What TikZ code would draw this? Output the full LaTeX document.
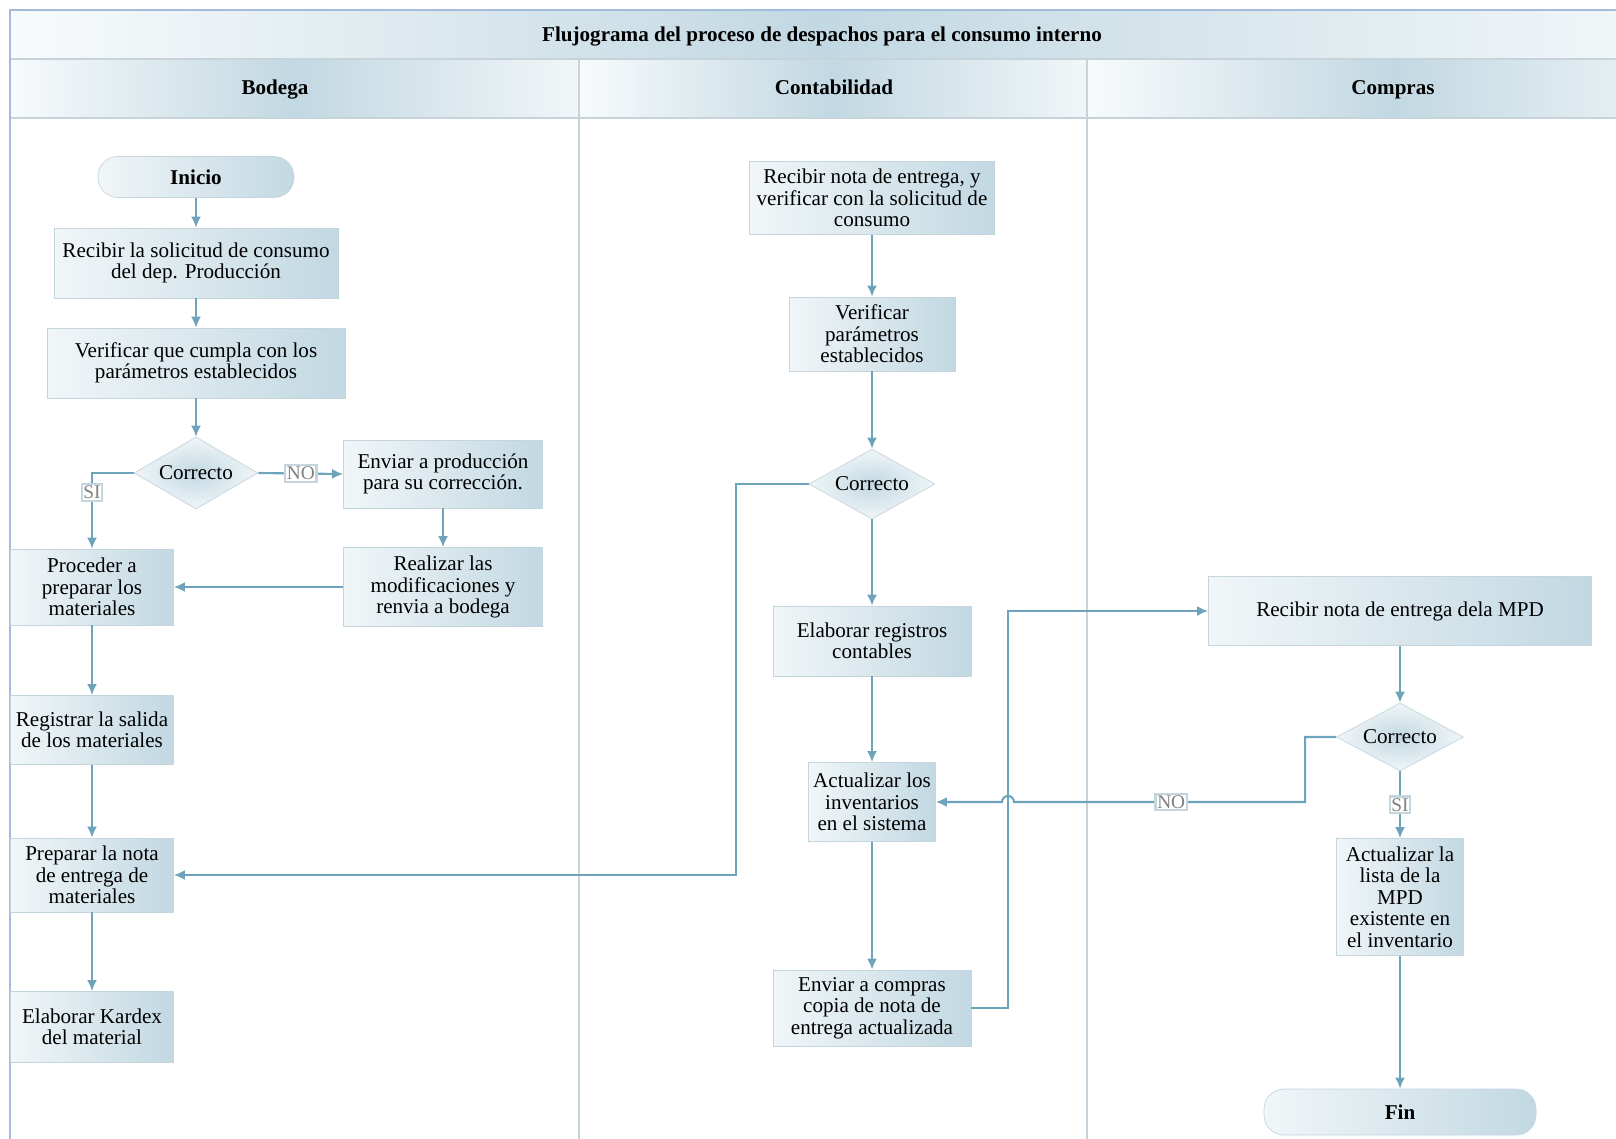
\documentclass[tikz,border=0pt]{standalone}
\usepackage{fontspec}
\setmainfont{Liberation Serif}
\usetikzlibrary{arrows.meta,shapes.geometric,calc}

\definecolor{flujo}{HTML}{6DA3BB}
\definecolor{claro}{HTML}{F1F6F8}
\definecolor{oscuro}{HTML}{C2D8E2}
\definecolor{borde}{HTML}{C4D5DE}
\definecolor{carril}{HTML}{C6D3DA}
\definecolor{marco}{HTML}{A3BBDD}

\tikzset{
    texto/.style={font=\fontsize{12}{12.2}\selectfont},
    proceso/.style={texto, draw=borde, left color=claro, right color=oscuro, align=center, inner sep=2pt},
    terminal/.style={proceso, rounded corners=0.4cm, font=\fontsize{12}{12}\selectfont\bfseries},
    decision/.style={diamond, aspect=1.75, draw=borde, inner color=oscuro, outer color=claro, inner sep=0pt, texto},
    enlace/.style={draw=flujo, line width=1.2pt, -{Latex[length=2.2mm,width=2mm]}},
    etiqueta/.style={fill=white, draw=borde, text=gray, inner sep=1pt, font=\fontsize{11}{11}\selectfont},
    cabecera/.style={font=\fontsize{12}{12}\selectfont\bfseries, text height=1.6ex, text depth=.5ex},
}

\begin{document}
\begin{tikzpicture}[x=0.2mm, y=-0.2mm]
    \clip (0,0) rectangle (1616,1138);

    % bandas de titulo y carriles
    \shade[left color=claro!50!white, right color=claro, middle color=oscuro] (10,10) rectangle (1634,59);
    \shade[left color=claro!50!white, right color=claro, middle color=oscuro] (10,59) rectangle (579,118);
    \shade[left color=claro!50!white, right color=claro, middle color=oscuro] (579,59) rectangle (1087,118);
    \shade[left color=claro!50!white, right color=claro, middle color=oscuro] (1087,59) rectangle (1700,118);
    \draw[carril, line width=1pt] (10,59) -- (1700,59) (10,118) -- (1700,118);
    \draw[carril, line width=1.2pt] (579,59) -- (579,1200) (1087,59) -- (1087,1200);
    \draw[marco, line width=1pt] (1700,10) -- (10,10) -- (10,1200);

    \node[cabecera] (titulo) at (822,37) {Flujograma del proceso de despachos para el consumo interno};
    \node[cabecera] (bodega) at (275,90) {Bodega};
    \node[cabecera] (conta) at (834,90) {Contabilidad};
    \node[cabecera] (compras) at (1393,90) {Compras};

    % Bodega
    \node[terminal, minimum width=3.92cm, minimum height=0.82cm] (inicio) at (196,177) {Inicio};
    \node[proceso, minimum width=5.68cm, minimum height=1.4cm] (recsol) at (196,263) {Recibir la solicitud de consumo\\del dep. Producción};
    \node[proceso, minimum width=5.96cm, minimum height=1.4cm] (verif) at (196,363) {Verificar que cumpla con los\\parámetros establecidos};
    \node[decision, minimum width=2.48cm, minimum height=1.44cm] (dec1) at (196,473) {Correcto};
    \node[proceso, minimum width=3.98cm, minimum height=1.36cm] (envprod) at (443,474) {Enviar a producción\\para su corrección.};
    \node[proceso, minimum width=3.98cm, minimum height=1.58cm] (realiz) at (443,587) {Realizar las\\modificaciones y\\renvia a bodega};
    \node[proceso, minimum width=3.26cm, minimum height=1.52cm] (proced) at (92,587) {Proceder a\\preparar los\\materiales};
    \node[proceso, minimum width=3.26cm, minimum height=1.38cm] (regist) at (92,730) {Registrar la salida\\de los materiales};
    \node[proceso, minimum width=3.26cm, minimum height=1.48cm] (prepnota) at (92,875) {Preparar la nota\\de entrega de\\materiales};
    \node[proceso, minimum width=3.26cm, minimum height=1.42cm] (kardex) at (92,1027) {Elaborar Kardex\\del material};

    % Contabilidad
    \node[proceso, minimum width=4.9cm, minimum height=1.46cm] (recnota) at (872,198) {Recibir nota de entrega, y\\verificar con la solicitud de\\consumo};
    \node[proceso, minimum width=3.32cm, minimum height=1.48cm] (verpar) at (872,334) {Verificar\\parámetros\\establecidos};
    \node[decision, minimum width=2.52cm, minimum height=1.4cm] (dec2) at (872,484) {Correcto};
    \node[proceso, minimum width=3.96cm, minimum height=1.4cm] (elabreg) at (872,641) {Elaborar registros\\contables};
    \node[proceso, minimum width=2.54cm, minimum height=1.58cm] (actinv) at (872,802) {Actualizar los\\inventarios\\en el sistema};
    \node[proceso, minimum width=3.96cm, minimum height=1.52cm] (envcomp) at (872,1008) {Enviar a compras\\copia de nota de\\entrega actualizada};

    % Compras
    \node[proceso, minimum width=7.66cm, minimum height=1.38cm] (recmpd) at (1400,611) {Recibir nota de entrega dela MPD};
    \node[decision, minimum width=2.54cm, minimum height=1.36cm] (dec3) at (1400,737) {Correcto};
    \node[proceso, minimum width=2.54cm, minimum height=2.34cm] (actlista) at (1400,897) {Actualizar la\\lista de la\\MPD\\existente en\\el inventario};
    \node[terminal, minimum width=5.44cm, minimum height=0.92cm] (fin) at (1400,1112) {Fin};

    \coordinate (cruce) at (1008,802);

    \draw[enlace] (inicio) -- (recsol);
    \draw[enlace] (recsol) -- (verif);
    \draw[enlace] (verif) -- (dec1);
    \draw[enlace] (dec1.west) -| node[etiqueta, pos=.63] {SI} (proced.north);
    \draw[enlace] (dec1.east) -- node[etiqueta] {NO} (envprod.west);
    \draw[enlace] (envprod) -- (realiz);
    \draw[enlace] (realiz.west) -- (proced.east);
    \draw[enlace] (proced) -- (regist);
    \draw[enlace] (regist) -- (prepnota);
    \draw[enlace] (prepnota) -- (kardex);

    \draw[enlace] (recnota) -- (verpar);
    \draw[enlace] (verpar) -- (dec2);
    \draw[enlace] (dec2.west) -- ++(-73,0) |- (prepnota.east);
    \draw[enlace] (dec2) -- (elabreg);
    \draw[enlace] (elabreg) -- (actinv);
    \draw[enlace] (actinv) -- (envcomp);
    \draw[enlace] (envcomp.east) -- (envcomp.east -| cruce) |- (recmpd.west);

    \draw[enlace] (recmpd) -- (dec3);
    \draw[enlace] (dec3.west) -- ++(-31,0) |- node[etiqueta, pos=.73] {NO} ($(cruce)+(6,0)$)
        arc[start angle=0, end angle=-180, radius=6] -- (actinv.east);
    \draw[enlace] (dec3) -- node[etiqueta] {SI} (actlista);
    \draw[enlace] (actlista) -- (fin);
\end{tikzpicture}
\end{document}
